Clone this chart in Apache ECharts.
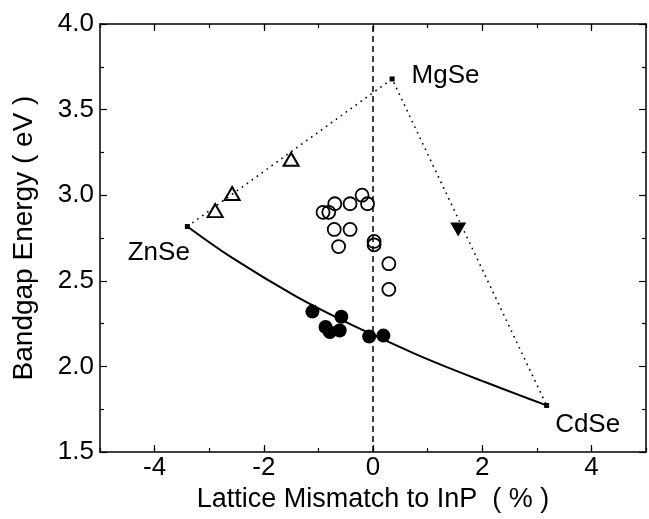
<!DOCTYPE html>
<html>
<head>
<meta charset="utf-8">
<script src="https://cdn.jsdelivr.net/npm/echarts@6/dist/echarts.min.js"></script>
<style>html,body{margin:0;padding:0;background:#fff}#c{width:649px;height:519px}</style>
</head>
<body>
<div id="c"></div>
<script>
// ---- data ----
const xTickLabels = [-4, -2, 0, 2, 4];
const compoundNames = ['ZnSe', 'MgSe', 'CdSe'];
const compoundX = [-3.40, 0.35, 3.18];
const compoundY = [2.817, 3.679, 1.772];
const curveX = [-3.40, -2.57, -1.41, -0.52, 0.00, 0.76, 1.40, 2.04, 2.68, 3.18];
const curveY = [2.817, 2.632, 2.409, 2.263, 2.185, 2.075, 1.990, 1.910, 1.832, 1.772];
const triX = [-2.89, -2.58, -1.50];
const triY = [2.91, 3.01, 3.21];
const downTriX = [1.56];
const downTriY = [2.80];
const openX = [-0.915, -0.81, -0.70, -0.42, -0.20, -0.10, -0.71, -0.42, -0.63, 0.02, 0.02, 0.29, 0.29];
const openY = [2.90, 2.90, 2.95, 2.95, 3.00, 2.95, 2.80, 2.80, 2.70, 2.73, 2.71, 2.60, 2.45];
const filledX = [-1.11, -0.87, -0.79, -0.58, -0.61, -0.07, 0.19];
const filledY = [2.32, 2.23, 2.20, 2.29, 2.21, 2.175, 2.18];
const mismatchZero = [0, 0];
const energyRange = [1.5, 4.0];

const zip = (a, b) => a.map((v, i) => [v, b[i]]);
const FONT = 'Liberation Sans';
const INK = '#000';

const labelPos = {
  ZnSe: { position: 'left', offset: [10, 26] },
  MgSe: { position: 'right', offset: [12, -3] },
  CdSe: { position: 'right', offset: [1, 19] }
};

const chart = echarts.init(document.getElementById('c'), null, { renderer: 'canvas' });
const axisCommon = {
  type: 'value', min: -5, max: 5,
  splitLine: { show: false },
  axisLine: { show: true, onZero: false, lineStyle: { color: INK, width: 1.5 } }
};
chart.setOption({
  animation: false,
  backgroundColor: '#fff',
  textStyle: { fontFamily: FONT },
  grid: { left: 100, right: 3, top: 24, bottom: 67 },
  xAxis: [
    Object.assign({}, axisCommon, {
      position: 'bottom', interval: 1,
      name: 'Lattice Mismatch to InP  ( % )', nameLocation: 'middle', nameGap: 32,
      nameTextStyle: { fontFamily: FONT, fontSize: 27, color: INK },
      axisTick: { inside: true, length: 4, lineStyle: { color: INK, width: 1.2 } },
      axisLabel: { fontFamily: FONT, fontSize: 26, color: INK, margin: 3,
        customValues: xTickLabels }
    }),
    Object.assign({}, axisCommon, {
      position: 'bottom',
      axisLine: { show: false },
      axisTick: { inside: true, length: 7, customValues: xTickLabels, lineStyle: { color: INK, width: 1.2 } },
      axisLabel: { show: false }
    }),
    Object.assign({}, axisCommon, {
      position: 'top', interval: 1,
      axisTick: { inside: true, length: 4, lineStyle: { color: INK, width: 1.2 } },
      axisLabel: { show: false }
    }),
    Object.assign({}, axisCommon, {
      position: 'top',
      axisLine: { show: false },
      axisTick: { inside: true, length: 7, customValues: xTickLabels, lineStyle: { color: INK, width: 1.2 } },
      axisLabel: { show: false }
    })
  ],
  yAxis: [
    {
      type: 'value', min: 1.5, max: 4.0, interval: 0.5, position: 'left',
      name: 'Bandgap Energy ( eV )', nameLocation: 'middle', nameGap: 62, nameRotate: 90,
      nameTextStyle: { fontFamily: FONT, fontSize: 28, color: INK },
      splitLine: { show: false },
      axisLine: { show: true, onZero: false, lineStyle: { color: INK, width: 1.5 } },
      axisTick: { inside: true, length: 7, lineStyle: { color: INK, width: 1.2 } },
      minorTick: { show: true, splitNumber: 2, length: 4, lineStyle: { color: INK, width: 1.2 } },
      minorSplitLine: { show: false },
      axisLabel: { fontFamily: FONT, fontSize: 26, color: INK, margin: 6, formatter: v => v.toFixed(1) }
    },
    {
      type: 'value', min: 1.5, max: 4.0, interval: 0.5, position: 'right',
      splitLine: { show: false },
      axisLine: { show: true, onZero: false, lineStyle: { color: INK, width: 1.5 } },
      axisTick: { inside: true, length: 7, lineStyle: { color: INK, width: 1.2 } },
      minorTick: { show: true, splitNumber: 2, length: 4, lineStyle: { color: INK, width: 1.2 } },
      minorSplitLine: { show: false },
      axisLabel: { show: false }
    }
  ],
  series: [
    {
      type: 'line', name: 'InP lattice match', data: zip(mismatchZero, energyRange),
      symbol: 'none', silent: true,
      lineStyle: { color: INK, width: 1.5, type: [6, 4] }
    },
    {
      type: 'line', name: 'ZnCdSe', data: zip(curveX, curveY), smooth: 0.4,
      symbol: 'none', lineStyle: { color: INK, width: 2 }
    },
    {
      type: 'line', name: 'boundary', data: zip(compoundX, compoundY),
      symbol: 'none', lineStyle: { color: INK, width: 1.6, type: [1.6, 4.5] }
    },
    {
      type: 'scatter', name: 'compounds', symbol: 'rect', symbolSize: 5,
      itemStyle: { color: INK, opacity: 1 },
      data: compoundNames.map((n, i) => ({
        value: [compoundX[i], compoundY[i]],
        label: Object.assign({ show: true, formatter: n, fontFamily: FONT, fontSize: 26, color: INK }, labelPos[n])
      }))
    },
    {
      type: 'scatter', name: 'ZnMgSe', symbol: 'triangle', symbolSize: [15, 13],
      itemStyle: { color: '#fff', borderColor: INK, borderWidth: 2, opacity: 1 },
      data: zip(triX, triY)
    },
    {
      type: 'scatter', name: 'MgCdSe', symbol: 'triangle', symbolRotate: 180, symbolSize: [16, 14],
      itemStyle: { color: INK, opacity: 1 },
      data: zip(downTriX, downTriY)
    },
    {
      type: 'scatter', name: 'ZnCdMgSe', symbol: 'circle', symbolSize: 13,
      itemStyle: { color: 'rgba(255,255,255,0)', borderColor: INK, borderWidth: 1.8, opacity: 1 },
      data: zip(openX, openY)
    },
    {
      type: 'scatter', name: 'ZnCdSe samples', symbol: 'circle', symbolSize: 14,
      itemStyle: { color: INK, opacity: 1 },
      data: zip(filledX, filledY)
    }
  ]
});
</script>
</body>
</html>
